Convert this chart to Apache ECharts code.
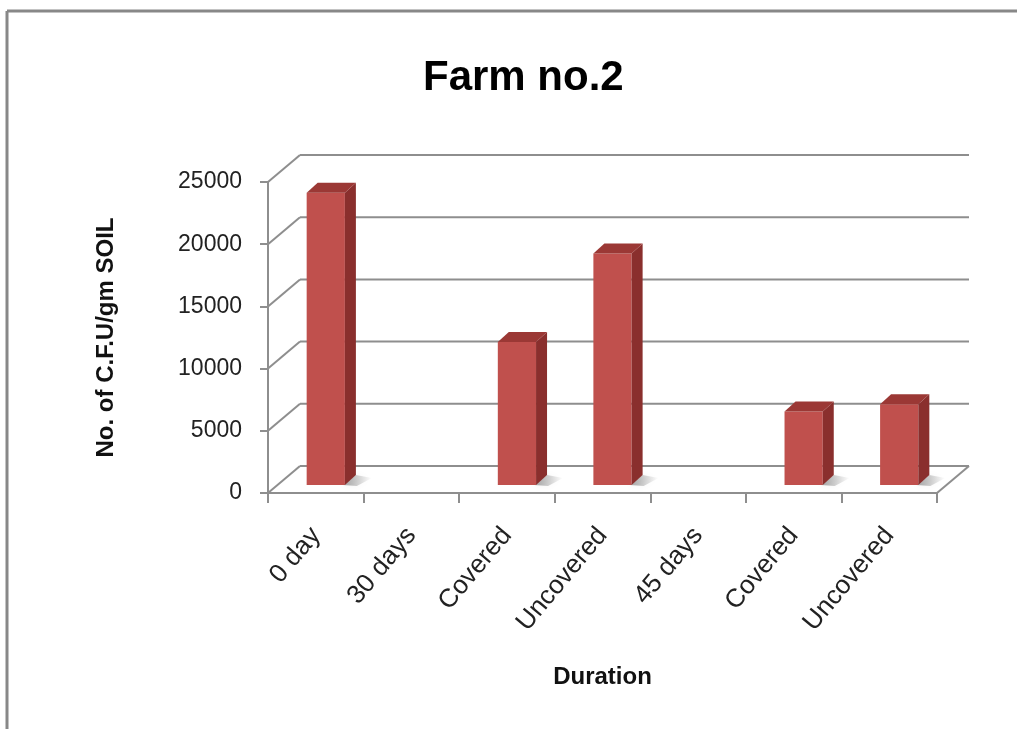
<!DOCTYPE html>
<html>
<head>
<meta charset="utf-8">
<script src="https://cdn.jsdelivr.net/npm/echarts@6/dist/echarts.min.js"></script>
<style>
  html, body { margin: 0; padding: 0; background: #ffffff; }
  #chart { width: 1017px; height: 729px; }
</style>
</head>
<body>
<div id="chart"></div>
<script>
// ---- data ----
const categories = ['0 day', '30 days', 'Covered', 'Uncovered', '45 days', 'Covered', 'Uncovered'];
const cfuValues = [23500, null, 11500, 18600, null, 5900, 6500];
const yTicks = [0, 5000, 10000, 15000, 20000, 25000];
const chartTitle = 'Farm no.2';
const xTitle = 'Duration';
const yTitle = 'No. of C.F.U/gm SOIL';

// ---- oblique 3D look ----
const WALL_DEPTH = [32, -27];  // offset of the back wall from the front plane
const BAR_FRONT = [10, -8];    // front face of a column inside the box
const BAR_DEPTH = [11, -10];   // thickness of a column
const GRID_COLOR = '#8e8e8e';
const FONT = "'Liberation Sans', Arial, sans-serif";
const FACE = '#c0504d', SIDE = '#8a2f2d', TOP = '#9b3835';

const chart = echarts.init(document.getElementById('chart'), null, { renderer: 'canvas' });

// back wall, side wall and floor lines for each y tick
function renderWalls(params, api) {
  const cs = params.coordSys;
  const v = api.value(1);
  const y = api.coord([0, v])[1];
  const x0 = cs.x, x1 = cs.x + cs.width;
  const [dx, dy] = WALL_DEPTH;
  const style = { stroke: GRID_COLOR, lineWidth: 2, fill: null };
  const children = [
    { type: 'line', shape: { x1: x0, y1: y, x2: x0 + dx, y2: y + dy }, style },
    { type: 'line', shape: { x1: x0 + dx, y1: y + dy, x2: x1 + dx, y2: y + dy }, style }
  ];
  if (v === 0) {
    children.push({ type: 'line', shape: { x1: x1, y1: y, x2: x1 + dx, y2: y + dy }, style });
  }
  return { type: 'group', children };
}

// one column: shadow, front face, side face, top face
function renderColumn(params, api) {
  const v = api.value(1);
  if (v == null || isNaN(v)) return null;
  const i = api.value(0);
  const base = api.coord([i, 0]);
  const top = api.coord([i, v]);
  const w = api.size([1, 0])[0] * 0.4;
  const xl = base[0] - w / 2 + BAR_FRONT[0];
  const xr = xl + w;
  const yb = base[1] + BAR_FRONT[1];
  const yt = top[1] + BAR_FRONT[1];
  const [dx, dy] = BAR_DEPTH;
  return {
    type: 'group',
    children: [
      {
        type: 'polygon',
        shape: { points: [[xr - 2, yb], [xr + dx, yb + dy], [xr + dx + 16, yb + dy + 3], [xr + 12, yb + 1]] },
        style: {
          fill: new echarts.graphic.LinearGradient(0, 0, 1, 0, [
            { offset: 0, color: 'rgba(0,0,0,0.35)' },
            { offset: 1, color: 'rgba(0,0,0,0)' }
          ]),
          shadowBlur: 6, shadowColor: 'rgba(0,0,0,0.2)'
        }
      },
      { type: 'rect', shape: { x: xl, y: yt, width: w, height: yb - yt }, style: { fill: FACE } },
      { type: 'polygon', shape: { points: [[xr, yt], [xr + dx, yt + dy], [xr + dx, yb + dy], [xr, yb]] }, style: { fill: SIDE } },
      { type: 'polygon', shape: { points: [[xl, yt], [xl + dx, yt + dy], [xr + dx, yt + dy], [xr, yt]] }, style: { fill: TOP } }
    ]
  };
}

const option = {
  backgroundColor: '#ffffff',
  animation: false,
  title: {
    text: chartTitle,
    left: 418,
    top: 52,
    textStyle: { fontFamily: FONT, fontSize: 42, fontWeight: 'bold', color: '#000' }
  },
  grid: { left: 268, right: 80, top: 182, bottom: 236, containLabel: false },
  xAxis: {
    type: 'category',
    data: categories,
    name: xTitle,
    nameLocation: 'middle',
    nameGap: 172,
    nameTextStyle: { fontFamily: FONT, fontSize: 24, fontWeight: 'bold', color: '#111' },
    axisLine: { show: true, lineStyle: { color: GRID_COLOR, width: 2 } },
    axisTick: { show: true, length: 10, lineStyle: { color: GRID_COLOR, width: 2 } },
    axisLabel: { rotate: 50, margin: 38, fontFamily: FONT, fontSize: 26, color: '#222', interval: 0 },
    splitLine: { show: false }
  },
  yAxis: {
    type: 'value',
    min: 0,
    max: 25000,
    interval: 5000,
    name: yTitle,
    nameLocation: 'middle',
    nameGap: 150,
    nameTextStyle: { fontFamily: FONT, fontSize: 24, fontWeight: 'bold', color: '#111' },
    axisLine: { show: true, lineStyle: { color: GRID_COLOR, width: 2 } },
    axisTick: { show: true, length: 8, lineStyle: { color: GRID_COLOR, width: 2 } },
    axisLabel: { margin: 26, fontFamily: FONT, fontSize: 23, color: '#222', formatter: v => String(v) },
    splitLine: { show: false }
  },
  graphic: [
    { type: 'line', shape: { x1: 7, y1: 11, x2: 1017, y2: 11 }, style: { stroke: '#888', lineWidth: 3 } },
    { type: 'line', shape: { x1: 7, y1: 11, x2: 7, y2: 729 }, style: { stroke: '#888', lineWidth: 3 } }
  ],
  series: [
    {
      type: 'custom',
      name: 'walls',
      renderItem: renderWalls,
      data: yTicks.map(v => [0, v]),
      z: 1,
      silent: true
    },
    {
      type: 'custom',
      name: 'C.F.U',
      renderItem: renderColumn,
      data: cfuValues.map((v, i) => [i, v == null ? NaN : v]),
      z: 3
    }
  ]
};

chart.setOption(option);
</script>
</body>
</html>
